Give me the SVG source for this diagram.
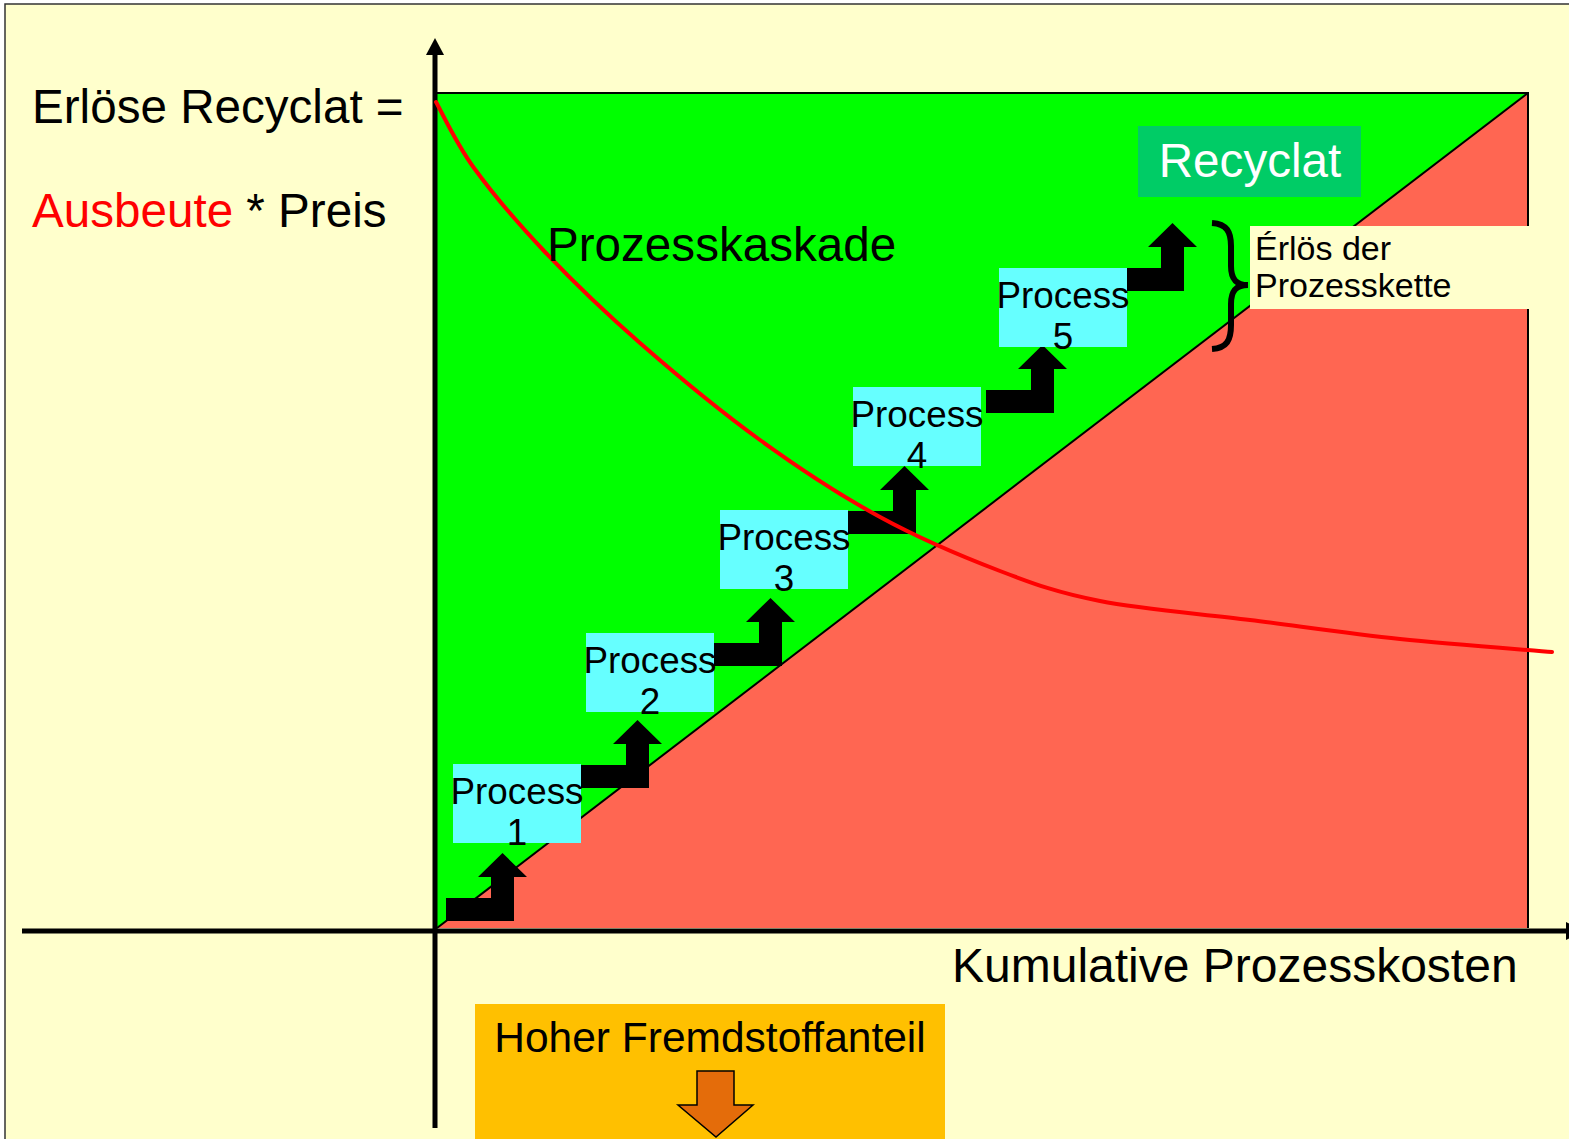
<svg xmlns="http://www.w3.org/2000/svg" xmlns:xlink="http://www.w3.org/1999/xlink" width="1569" height="1139" viewBox="0 0 1569 1139">
  <style>
    text { font-family: "Liberation Sans", Arial, sans-serif; fill: #000; }
    .big { font-size: 47.6px; }
    .proc-box { fill: #66FFFF; }
    .proc-label { font-size: 36.8px; text-anchor: middle; }
    .step { fill: #000; }
    .axis { stroke: #000; stroke-width: 5; fill: none; }
  </style>
  <defs>
    <!-- stepped arrow: horizontal bar, vertical stem, upward head -->
    <path id="step" d="M0,0 H45 V-21 H32 L56.5,-45 L81,-21 H68 V23 H0 Z"/>
  </defs>

  <!-- page -->
  <rect x="0" y="0" width="1569" height="1139" fill="#ffffff"/>
  <rect x="5" y="4" width="1600" height="1200" fill="#FFFFCC" stroke="#333" stroke-width="1.5"/>

  <!-- revenue / cost areas -->
  <g id="areas">
    <rect x="437" y="93" width="1091" height="835" fill="#00FF00"/>
    <polygon points="437,928 1528,93 1528,928" fill="#FF6652"/>
    <line x1="437" y1="928" x2="1528" y2="93" stroke="#000" stroke-width="2"/>
    <polyline points="437,93 1528,93 1528,928" fill="none" stroke="#000" stroke-width="2"/>
  </g>

  <!-- axes -->
  <g id="axes">
    <line class="axis" x1="435" y1="1128" x2="435" y2="52"/>
    <polygon points="426,55 435,38 444,55" fill="#000"/>
    <line class="axis" x1="22" y1="931" x2="1569" y2="931"/>
    <polygon points="1566,922 1584,931 1566,940" fill="#000"/>
  </g>

  <!-- connectors: stepped arrows between processes -->
  <g id="connectors" class="step">
    <use xlink:href="#step" href="#step" x="446" y="898"/>
    <use xlink:href="#step" href="#step" x="581" y="765"/>
    <use xlink:href="#step" href="#step" x="714" y="643"/>
    <use xlink:href="#step" href="#step" x="848" y="511"/>
    <use xlink:href="#step" href="#step" x="986" y="390"/>
    <use xlink:href="#step" href="#step" x="1116" y="268"/>
  </g>

  <!-- process nodes -->
  <g id="process-1">
    <rect class="proc-box" x="453" y="764" width="128" height="79"/>
    <text class="proc-label" x="517" y="804">Process</text>
    <text class="proc-label" x="517" y="845">1</text>
  </g>
  <g id="process-2">
    <rect class="proc-box" x="586" y="633" width="128" height="79"/>
    <text class="proc-label" x="650" y="673">Process</text>
    <text class="proc-label" x="650" y="714">2</text>
  </g>
  <g id="process-3">
    <rect class="proc-box" x="720" y="510" width="128" height="79"/>
    <text class="proc-label" x="784" y="550">Process</text>
    <text class="proc-label" x="784" y="591">3</text>
  </g>
  <g id="process-4">
    <rect class="proc-box" x="853" y="387" width="128" height="79"/>
    <text class="proc-label" x="917" y="427">Process</text>
    <text class="proc-label" x="917" y="468">4</text>
  </g>
  <g id="process-5">
    <rect class="proc-box" x="999" y="268" width="128" height="79"/>
    <text class="proc-label" x="1063" y="308">Process</text>
    <text class="proc-label" x="1063" y="349">5</text>
  </g>

  <!-- output node -->
  <g id="recyclat">
    <rect x="1138" y="126" width="223" height="71" fill="#00CC66"/>
    <text class="big" x="1250" y="177" text-anchor="middle" style="fill:#ffffff">Recyclat</text>
  </g>

  <!-- yield curve -->
  <path id="yield-curve" fill="none" stroke="#FF0000" stroke-width="4" stroke-linecap="round"
    d="M436,102 C442.3,113 455.8,143 474,168
       C492.2,193 517.3,222.8 545,252
       C572.7,281.2 604.2,311.7 640,343
       C675.8,374.3 720,411 760,440
       C800,469 840,495.2 880,517
       C920,538.8 963.3,557 1000,571
       C1036.7,585 1058.3,592.8 1100,601
       C1141.7,609.2 1200,613.7 1250,620
       C1300,626.3 1349.7,633.7 1400,639
       C1450.3,644.3 1526.7,649.8 1552,652"/>

  <!-- chain revenue brace and label -->
  <g id="chain-revenue">
    <path d="M1212,223 C1227,224 1231,232 1231,246 L1231,266 C1231,279 1236,285 1248,285 C1236,285 1231,291 1231,304 L1231,325 C1231,340 1227,348 1212,349" fill="none" stroke="#000" stroke-width="6"/>
    <rect x="1250" y="226" width="279" height="83" fill="#FFFFCC"/>
    <text x="1255" y="260" style="font-size:34px">Érlös der</text>
    <text x="1255" y="297" style="font-size:34px">Prozesskette</text>
  </g>

  <!-- labels -->
  <g id="labels">
    <text class="big" x="32" y="123">Erlöse Recyclat =</text>
    <text class="big" x="32" y="227"><tspan style="fill:#FF0000">Ausbeute</tspan> * Preis</text>
    <text class="big" x="547" y="261">Prozesskaskade</text>
    <text class="big" x="952" y="982" style="font-size:48px">Kumulative Prozesskosten</text>
  </g>

  <!-- contamination note -->
  <g id="fremdstoff">
    <rect x="475" y="1004" width="470" height="140" fill="#FFC000"/>
    <text x="710" y="1052" text-anchor="middle" style="font-size:42.5px">Hoher Fremdstoffanteil</text>
    <polygon points="697,1071 734,1071 734,1105 753,1105 716,1137 678,1105 697,1105" fill="#E46C0A" stroke="#000" stroke-width="1.5"/>
  </g>
</svg>
